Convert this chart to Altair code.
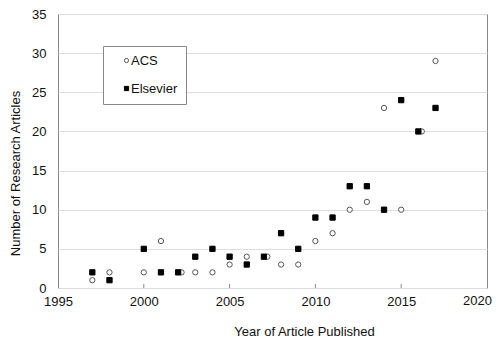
import altair as alt
import pandas as pd

series = ["ACS", "Elsevier"]
acs_years = [1997, 1998, 2000, 2001, 2002.2, 2003, 2004, 2005, 2006, 2007.2,
             2008, 2009, 2010, 2011, 2012, 2013, 2014, 2015, 2016.2, 2017]
acs_counts = [1, 2, 2, 6, 2, 2, 2, 3, 4, 4, 3, 3, 6, 7, 10, 11, 23, 10, 20, 29]
els_years = [1997, 1998, 2000, 2001, 2002, 2003, 2004, 2005, 2006, 2007,
             2008, 2009, 2010, 2011, 2012, 2013, 2014, 2015, 2016, 2017]
els_counts = [2, 1, 5, 2, 2, 4, 5, 4, 3, 4, 7, 5, 9, 9, 13, 13, 10, 24, 20, 23]
x_ticks = [1995, 2000, 2005, 2010, 2015]
x_last_tick = [2020]
inner_ticks = [2000, 2005, 2010, 2015]
y_ticks = [0, 5, 10, 15, 20, 25, 30, 35]

df = pd.DataFrame({
    "year": acs_years + els_years,
    "count": acs_counts + els_counts,
    "source": ["ACS"] * len(acs_years) + ["Elsevier"] * len(els_years),
})
ticks_df = pd.DataFrame({"year": inner_ticks})
last_df = pd.DataFrame({"year": x_last_tick, "label": [str(v) for v in x_last_tick]})

FONT = "Liberation Sans"
x_scale = alt.Scale(domain=[1995, 2020], nice=False, zero=False)
y_scale = alt.Scale(domain=[0, 35], nice=False)

legend = alt.Legend(
    title=None, orient="none", legendX=45, legendY=32,
    strokeColor="#888888", fillColor="white", padding=8,
    symbolSize=18, symbolStrokeWidth=1, labelFontSize=13, labelFont=FONT,
    labelColor="#111111", rowPadding=14, symbolOffset=9,
    labelOffset={"expr": "-2"},
    labelExpr="datum.label + ' '",
)

points = alt.Chart(df).mark_point(size=28, opacity=1, strokeWidth=1).encode(
    x=alt.X("year:Q", scale=x_scale, axis=alt.Axis(
        values=x_ticks, format="d", grid=False, ticks=False, domain=False,
        labelPadding=7, labelFontSize=13, labelFont=FONT, labelColor="#111111",
        labelFlush=False,
        title="Year of Article Published", titleX=246, titleY=47,
        titleBaseline="alphabetic", titleAlign="center",
        titleFontWeight="normal", titleFontSize=13, titleFont=FONT,
        titleColor="#111111")),
    y=alt.Y("count:Q", scale=y_scale, axis=alt.Axis(
        values=y_ticks, grid=True, gridColor="#dedede", ticks=False, domain=False,
        labelPadding=12, labelFontSize=13, labelFont=FONT, labelColor="#111111",
        labelFlush=False,
        title="Number of Research Articles", titleX=-43, titleY=159,
        titleAngle=270, titleBaseline="middle", titleAlign="center",
        titleFontWeight="normal", titleFontSize=13, titleFont=FONT,
        titleColor="#111111")),
    shape=alt.Shape("source:N", scale=alt.Scale(domain=series, range=["circle", "square"]), legend=legend),
    fill=alt.Fill("source:N", scale=alt.Scale(domain=series, range=["white", "black"]), legend=legend),
    stroke=alt.Stroke("source:N", scale=alt.Scale(domain=series, range=["#555555", "black"]), legend=legend),
)

tick_marks = alt.Chart(ticks_df).mark_rule(color="#888888", strokeWidth=1).encode(
    x=alt.X("year:Q", scale=x_scale),
    y=alt.value(270),
    y2=alt.value(274),
)

last_label = alt.Chart(last_df).mark_text(
    align="right", baseline="top", dx=5, font=FONT, fontSize=13, color="#111111"
).encode(
    x=alt.X("year:Q", scale=x_scale),
    y=alt.value(281),
    text="label:N",
)

chart = alt.layer(tick_marks, points, last_label).properties(
    width=429, height=274,
    autosize=alt.AutoSizeParams(type="none"),
    padding={"left": 50, "top": 6, "right": 6, "bottom": 51},
    background="white",
).configure_view(stroke="#888888", strokeWidth=1, clip=False)

chart.save("out.html", embed_options={"renderer": "svg", "actions": False})
